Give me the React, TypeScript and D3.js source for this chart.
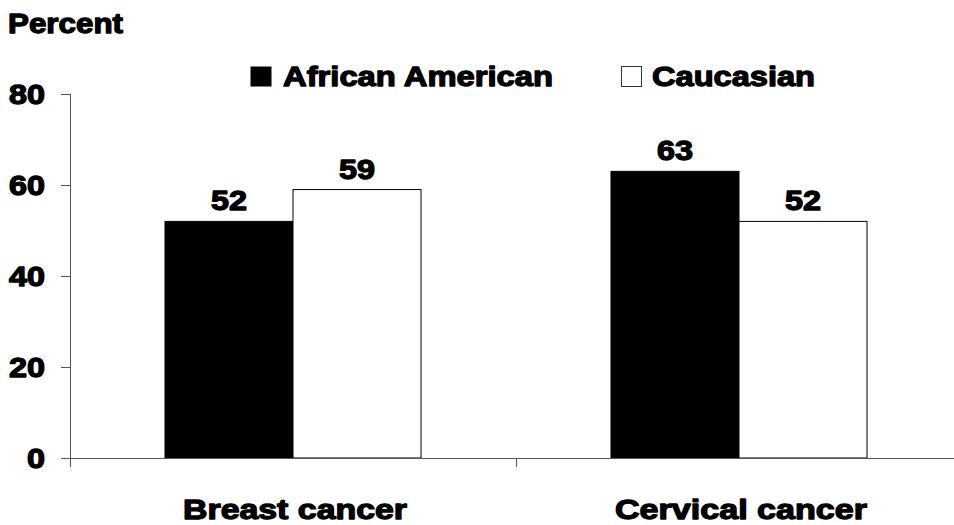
import React from "react";
import * as d3 from "d3";

const categories = ["Breast cancer", "Cervical cancer"];
const seriesNames = ["African American", "Caucasian"];
const africanAmerican = [52, 63];
const caucasian = [59, 52];
const yTicks = [0, 20, 40, 60, 80];

const W = 954;
const H = 525;
const FONT = "'Liberation Sans', Arial, sans-serif";

export default function App() {
  const y = d3.scaleLinear().domain([0, 80]).range([458, 94]);
  const x = d3.scaleBand<string>().domain(categories).range([70, 962]).paddingInner(0).paddingOuter(0);
  const inner = d3
    .scaleBand<string>()
    .domain(seriesNames)
    .range([0, x.bandwidth()])
    .paddingInner(0)
    .paddingOuter(0.742);
  const values = [africanAmerican, caucasian];
  const fills = ["#000000", "#ffffff"];

  const textProps = {
    fontFamily: FONT,
    fontWeight: 700,
    fontSize: 28,
    fill: "#000",
    stroke: "#000",
    strokeWidth: 1.3,
    strokeLinejoin: "round",
    lengthAdjust: "spacingAndGlyphs",
  } as any;

  const axisColor = "#555";

  return (
    <svg width={W} height={H} style={{ position: "absolute", left: 0, top: 0, background: "#fff" }}>
      <rect x={0} y={0} width={W} height={H} fill="#fff" />
      <text x={8} y={33} textLength={115} {...textProps}>Percent</text>

      {/* bars */}
      {categories.map((c, ci) =>
        seriesNames.map((s, si) => {
          const bx = (x(c) as number) + (inner(s) as number);
          const v = values[si][ci];
          return (
            <g key={c + s}>
              <rect
                x={bx}
                y={y(v)}
                width={inner.bandwidth()}
                height={y(0) - y(v)}
                fill={fills[si]}
                stroke="#000"
                strokeWidth={1}
              />
              <text
                x={bx + inner.bandwidth() / 2}
                y={y(v) - 11}
                textAnchor="middle"
                textLength={36}
                {...textProps}
              >
                {v}
              </text>
            </g>
          );
        })
      )}

      {/* y axis */}
      <line x1={70.5} x2={70.5} y1={94} y2={467} stroke={axisColor} strokeWidth={1} />
      {yTicks.map((t) => (
        <g key={t}>
          <line x1={61} x2={70.5} y1={Math.round(y(t)) + 0.5} y2={Math.round(y(t)) + 0.5} stroke={axisColor} strokeWidth={1} />
          <text
            x={45}
            y={y(t) + 10}
            textAnchor="end"
            textLength={String(t).length * 18}
            {...textProps}
          >
            {t}
          </text>
        </g>
      ))}

      {/* x axis */}
      <line x1={61} x2={W} y1={458.5} y2={458.5} stroke={axisColor} strokeWidth={1} />
      {categories.map((c) => (
        <line
          key={c + "tick"}
          x1={Math.round((x(c) as number) + x.bandwidth()) + 0.5}
          x2={Math.round((x(c) as number) + x.bandwidth()) + 0.5}
          y1={458}
          y2={467}
          stroke={axisColor}
          strokeWidth={1}
        />
      ))}
      {categories.map((c, i) => (
        <text
          key={c}
          x={(x(c) as number) + x.bandwidth() / 2 + 2}
          y={519}
          textAnchor="middle"
          textLength={i === 0 ? 224 : 252}
          {...textProps}
        >
          {c}
        </text>
      ))}

      {/* legend */}
      <rect x={251} y={67} width={20} height={19} fill="#000" stroke="#000" strokeWidth={1} />
      <text x={283} y={86} textLength={270} {...textProps}>{seriesNames[0]}</text>
      <rect x={621.5} y={66.5} width={20} height={20} fill="#fff" stroke="#333" strokeWidth={1} />
      <text x={652} y={86} textLength={163} {...textProps}>{seriesNames[1]}</text>
    </svg>
  );
}
